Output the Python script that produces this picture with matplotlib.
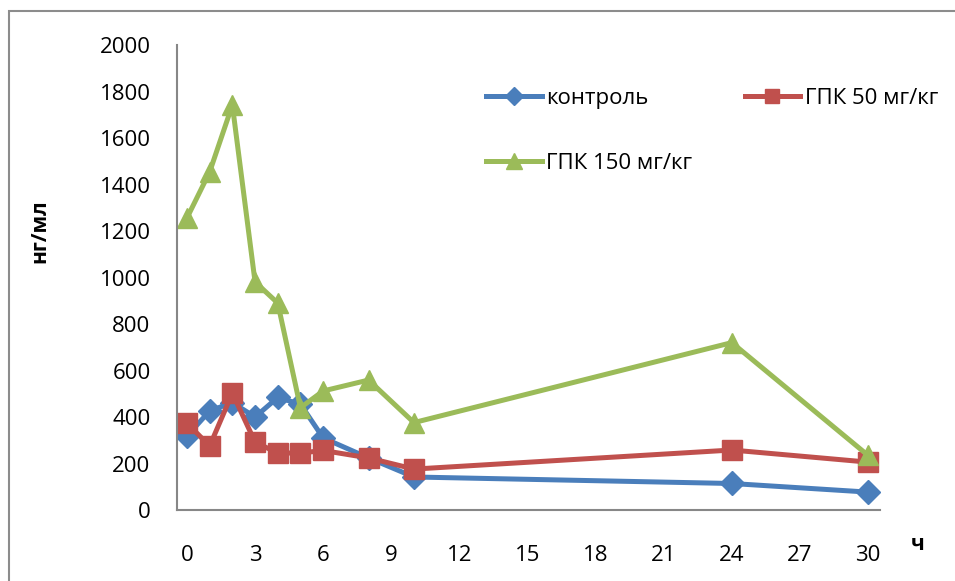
import matplotlib.pyplot as plt
from matplotlib.patches import Rectangle

plt.rcParams['font.family'] = ['Open Sans', 'DejaVu Sans']

# hours after dosing
hours = [0, 1, 2, 3, 4, 5, 6, 8, 10, 24, 30]
control = [318, 426, 462, 400, 484, 455, 310, 224, 142, 114, 77]
gpk50 = [374, 275, 503, 292, 245, 245, 256, 224, 176, 258, 206]
gpk150 = [1256, 1454, 1742, 981, 890, 440, 512, 559, 376, 720, 235]
xticks = [0, 3, 6, 9, 12, 15, 18, 21, 24, 27, 30]
yticks = [0, 200, 400, 600, 800, 1000, 1200, 1400, 1600, 1800, 2000]

fig = plt.figure(figsize=(9.55, 5.81), dpi=100)
ax = fig.add_axes([0.1853, 0.1222, 0.7362, 0.8003])

l1, = ax.plot(hours, control, color='#4A7EBB', lw=3.6, marker='D', ms=12, label='контроль')
l2, = ax.plot(hours, gpk50, color='#C0504D', lw=3.6, marker='s', ms=14, label='ГПК 50 мг/кг')
l3, = ax.plot(hours, gpk150, color='#9BBB59', lw=3.6, marker='^', ms=15, label='ГПК 150 мг/кг')

ax.set_xlim(-0.44, 30.53)
ax.set_ylim(0, 2000)
ax.set_xticks(xticks)
ax.set_yticks(yticks)
ax.tick_params(length=0, labelsize=16)
ax.tick_params(axis='x', pad=25)
ax.tick_params(axis='y', pad=19)
for s in ['top', 'right']:
    ax.spines[s].set_visible(False)
for s in ['left', 'bottom']:
    ax.spines[s].set_color('#878787')
    ax.spines[s].set_linewidth(1.5)

ax.set_ylabel('нг/мл', fontsize=15, fontweight='bold', labelpad=0)
ax.yaxis.set_label_coords(-0.18, 0.6)
ax.text(1.054, -0.075, 'ч', transform=ax.transAxes, fontsize=15,
        fontweight='bold', ha='center', va='center')

ax.legend([l1, l3, l2], [l1.get_label(), l3.get_label(), l2.get_label()],
          ncol=2, loc='upper left', bbox_to_anchor=(0.44, 0.908), frameon=False,
          fontsize=16, handlelength=2.5, handletextpad=0.2, columnspacing=2.35,
          labelspacing=2.0, borderpad=0, borderaxespad=0, markerscale=0.75)

fig.patches.append(Rectangle((9 / 955, -0.1), 1.2, 1 - 11 / 581 + 0.1,
                             transform=fig.transFigure, fill=False,
                             edgecolor='#8c8c8c', lw=1.5, clip_on=False))

fig.savefig('out.png', dpi=100)
